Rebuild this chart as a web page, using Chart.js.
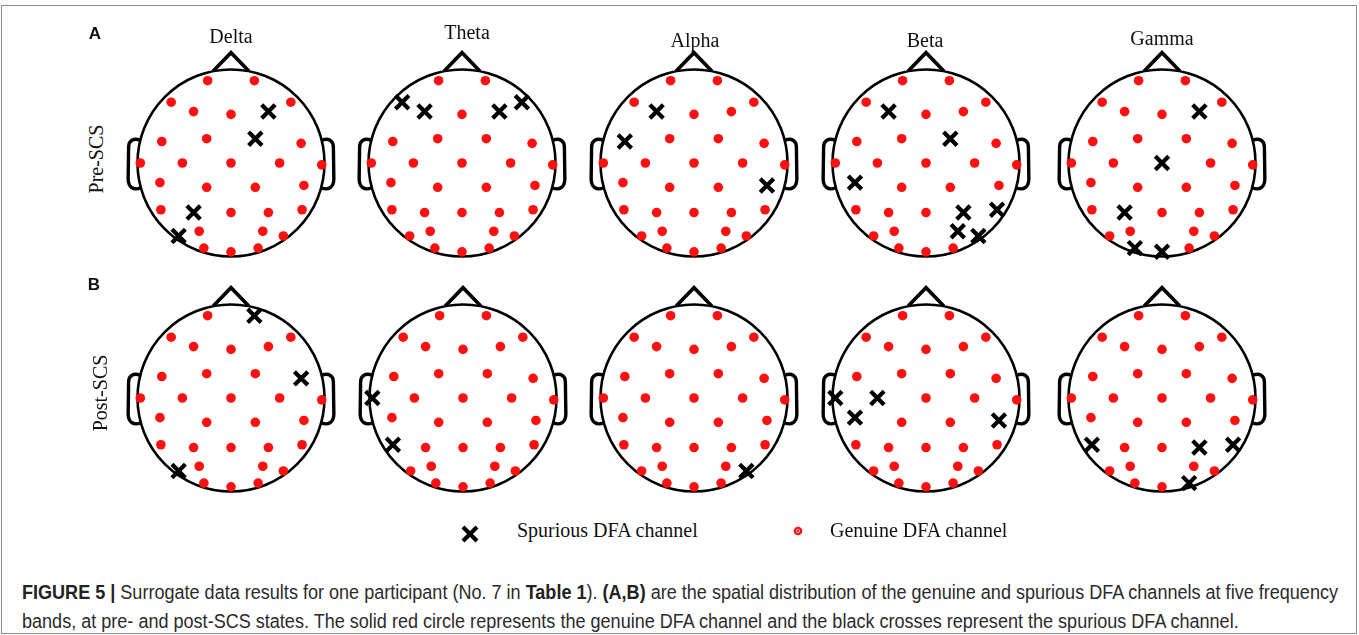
<!DOCTYPE html>
<html>
<head>
<meta charset="utf-8">
<script src="https://cdn.jsdelivr.net/npm/chart.js@4.4.0/dist/chart.umd.min.js"></script>
<style>
  html, body { margin: 0; padding: 0; background: #fff; }
  #fig { position: relative; width: 1359px; height: 635px; overflow: hidden; background: #fff; }
  .frame { position: absolute; left: 1px; top: 5px; width: 1354px; height: 627px; border: 1px solid #8c8c8c; }
  canvas.head { position: absolute; }
  .serif { position: absolute; font-family: "Liberation Serif", "DejaVu Serif", serif; font-size: 20px; color: #111; line-height: 1; white-space: nowrap; }
  .band { transform: translate(-50%, -50%); }
  .rowlab { transform: translate(-50%, -50%) rotate(-90deg); }
  .panel { position: absolute; font-family: "Liberation Sans", Arial, sans-serif; font-weight: bold; font-size: 17px; color: #111; line-height: 1; transform: translate(-50%, -50%); }
  .cap { position: absolute; left: 22px; font-family: "Liberation Sans", Arial, sans-serif; font-size: 20px; color: #2b2b2b; white-space: nowrap; line-height: 1; transform-origin: 0 50%; }
  .cap b { color: #222; }
  canvas.icon { position: absolute; }
</style>
</head>
<body>
<div id="fig">
  <div class="frame"></div>
</div>
<script>
// 32-channel montage: names and normalised scalp positions (head radius = 1, anterior up)
const channels = ['Fp1','Fp2','F7','F3','Fz','F4','F8','FC5','FC1','FC2','FC6','T7','C3','Cz','C4','T8',
                  'CP5','CP1','CP2','CP6','P7','P3','Pz','P4','P8','PO9','PO3','PO4','PO10','O1','Oz','O2'];
const chanX = [-0.25, 0.25, -0.64, -0.40, 0.00, 0.40, 0.64, -0.74, -0.26, 0.26, 0.75, -0.97, -0.52, 0.00, 0.52, 0.97,
               -0.76, -0.26, 0.26, 0.78, -0.75, -0.40, 0.00, 0.40, 0.76, -0.56, -0.34, 0.34, 0.56, -0.29, 0.00, 0.29];
const chanY = [0.88, 0.88, 0.65, 0.55, 0.52, 0.55, 0.65, 0.23, 0.26, 0.26, 0.21, 0.00, 0.00, 0.00, 0.00, -0.02,
               -0.21, -0.26, -0.26, -0.24, -0.50, -0.53, -0.53, -0.53, -0.50, -0.78, -0.73, -0.73, -0.78, -0.91, -0.95, -0.91];

const bands = ['Delta', 'Theta', 'Alpha', 'Beta', 'Gamma'];
const states = ['Pre-SCS', 'Post-SCS'];

// Channels flagged as spurious DFA channels, per band
const spuriousPre = [
  ['F4', 'FC2', 'P3', 'PO9'],
  ['F7', 'F3', 'F4', 'F8'],
  ['F3', 'FC5', 'CP6'],
  ['F3', 'FC2', 'CP5', 'P4', 'P8', 'PO4', 'PO10'],
  ['F4', 'Cz', 'P3', 'O1', 'Oz']
];
const spuriousPost = [
  ['Fp2', 'FC6', 'PO9'],
  ['T7', 'P7'],
  ['PO10'],
  ['T7', 'C3', 'CP5', 'CP6'],
  ['P7', 'P4', 'P8', 'O2']
];

// ---- layout ----
const headCX = [[231, 462, 694, 926, 1162], [231, 463, 694, 926, 1162]];
const headCY = [163, 398];
const HEAD_R = 93.5;
const CANVAS = 240;
const UNIT = (CANVAS / 2) / HEAD_R;

const fig = document.getElementById('fig');

// Scalp outline: circle, nose and ears, drawn in scale units
const headOutline = {
  id: 'headOutline',
  beforeDatasetsDraw(chart) {
    const { ctx, scales: { x, y } } = chart;
    const px = v => x.getPixelForValue(v);
    const py = v => y.getPixelForValue(v);
    const r = px(1) - px(0);
    ctx.save();
    ctx.strokeStyle = '#000';
    ctx.lineWidth = 2.6;
    ctx.beginPath();
    ctx.arc(px(0), py(0), r, 0, Math.PI * 2);
    ctx.stroke();
    // nose
    ctx.lineWidth = 3.6;
    ctx.lineJoin = 'miter';
    ctx.beginPath();
    ctx.moveTo(px(-0.19), py(0.985));
    ctx.lineTo(px(0), py(1.18));
    ctx.lineTo(px(0.19), py(0.985));
    ctx.stroke();
    // ears
    ctx.lineWidth = 3.4;
    ctx.lineJoin = 'round';
    for (const s of [-1, 1]) {
      ctx.beginPath();
      ctx.moveTo(px(s * 0.975), py(0.245));
      ctx.bezierCurveTo(px(s * 1.04), py(0.27), px(s * 1.095), py(0.24), px(s * 1.095), py(0.17));
      ctx.lineTo(px(s * 1.1), py(-0.17));
      ctx.bezierCurveTo(px(s * 1.1), py(-0.25), px(s * 1.05), py(-0.30), px(s * 0.965), py(-0.265));
      ctx.stroke();
    }
    ctx.restore();
  }
};

function pointsFor(list, spurious) {
  const out = [];
  channels.forEach((c, i) => {
    if (spurious.includes(c) === list) out.push({ x: chanX[i], y: chanY[i], ch: c });
  });
  return out;
}

function drawHead(row, col) {
  const spur = row === 0 ? spuriousPre[col] : spuriousPost[col];
  const cv = document.createElement('canvas');
  cv.className = 'head';
  cv.width = CANVAS; cv.height = CANVAS;
  cv.style.left = (headCX[row][col] - CANVAS / 2) + 'px';
  cv.style.top = (headCY[row] - CANVAS / 2) + 'px';
  cv.style.width = CANVAS + 'px'; cv.style.height = CANVAS + 'px';
  fig.appendChild(cv);
  const genuine = pointsFor(false, spur);
  const spurious = pointsFor(true, spur);
  new Chart(cv, {
    type: 'scatter',
    data: {
      datasets: [
        { label: 'Genuine DFA channel', data: genuine, pointStyle: 'circle', pointRadius: 4.8,
          backgroundColor: '#ff1010', borderWidth: 0 },
        { label: 'genuine-core', data: genuine, pointStyle: 'circle', pointRadius: 1.7,
          backgroundColor: 'rgba(0,0,0,0)', borderColor: '#ffc8c8', borderWidth: 0.9 },
        { label: 'Spurious DFA channel', data: spurious, pointStyle: 'crossRot', pointRadius: 9.5,
          borderColor: '#000', borderWidth: 4.2 }
      ]
    },
    options: {
      responsive: false,
      animation: false,
      events: [],
      layout: { padding: 0, autoPadding: false },
      clip: false,
      scales: {
        x: { type: 'linear', min: -UNIT, max: UNIT, display: false },
        y: { type: 'linear', min: -UNIT, max: UNIT, display: false }
      },
      plugins: { legend: { display: false }, tooltip: { enabled: false }, title: { display: false } }
    },
    plugins: [headOutline]
  });
}

for (let r = 0; r < 2; r++) for (let c = 0; c < 5; c++) drawHead(r, c);

// ---- text ----
function addText(cls, txt, x, y) {
  const d = document.createElement('div');
  d.className = cls;
  d.textContent = txt;
  d.style.left = x + 'px';
  d.style.top = y + 'px';
  fig.appendChild(d);
  return d;
}
const bandLabelY = [36, 32, 40, 40, 38];
const bandLabelX = [231, 467, 695, 925, 1162];
bands.forEach((b, i) => addText('serif band', b, bandLabelX[i], bandLabelY[i]));
addText('serif rowlab', states[0], 96, 159);
addText('serif rowlab', states[1], 100, 393);
addText('panel', 'A', 95, 33);
addText('panel', 'B', 94, 284);

// legend
addText('serif', 'Spurious DFA channel', 517, 520);
addText('serif', 'Genuine DFA channel', 830, 520);
function icon(x, y, draw) {
  const c = document.createElement('canvas');
  c.className = 'icon';
  c.width = 24; c.height = 24;
  c.style.left = (x - 12) + 'px'; c.style.top = (y - 12) + 'px';
  fig.appendChild(c);
  draw(c.getContext('2d'));
}
icon(470, 534, ctx => {
  ctx.strokeStyle = '#000'; ctx.lineWidth = 4.2;
  ctx.beginPath();
  ctx.moveTo(5, 5); ctx.lineTo(19, 19);
  ctx.moveTo(19, 5); ctx.lineTo(5, 19);
  ctx.stroke();
});
icon(798, 531, ctx => {
  ctx.fillStyle = '#ff1010';
  ctx.beginPath(); ctx.arc(12, 12, 4.3, 0, Math.PI * 2); ctx.fill();
  ctx.strokeStyle = '#ffc8c8'; ctx.lineWidth = 0.9;
  ctx.beginPath(); ctx.arc(12, 12, 1.6, 0, Math.PI * 2); ctx.stroke();
});

// caption
const cap1 = document.createElement('div');
cap1.className = 'cap';
cap1.style.top = '582px';
cap1.innerHTML = '<b>FIGURE 5 |</b> Surrogate data results for one participant (No. 7 in <b>Table 1</b>). <b>(A,B)</b> are the spatial distribution of the genuine and spurious DFA channels at five frequency';
fig.appendChild(cap1);
const cap2 = document.createElement('div');
cap2.className = 'cap';
cap2.style.top = '611px';
cap2.textContent = 'bands, at pre- and post-SCS states. The solid red circle represents the genuine DFA channel and the black crosses represent the spurious DFA channel.';
fig.appendChild(cap2);
const sx = 1316 / cap1.getBoundingClientRect().width;
cap1.style.transform = 'scaleX(' + sx + ')';
cap2.style.transform = 'scaleX(' + sx + ')';
</script>
</body>
</html>
